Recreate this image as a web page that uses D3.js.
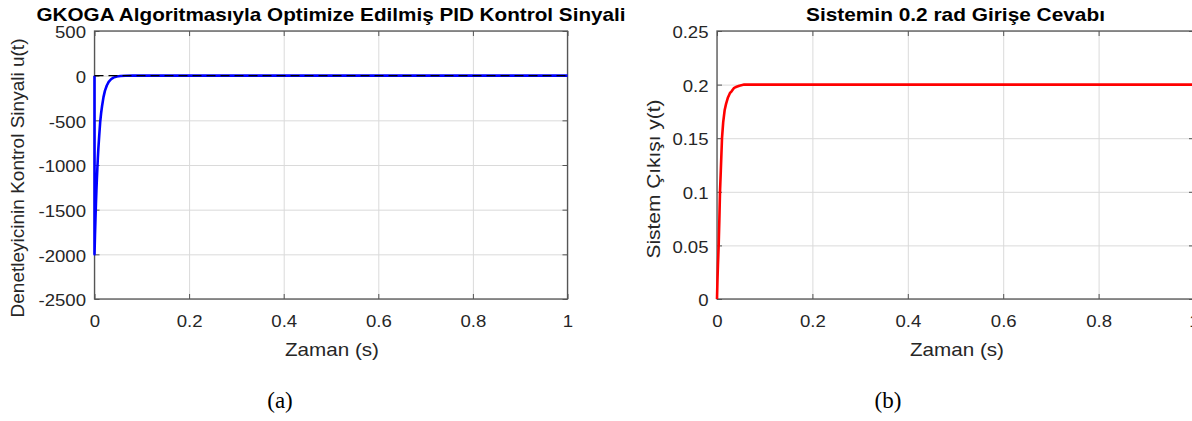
<!DOCTYPE html>
<html>
<head>
<meta charset="utf-8">
<script src="https://cdn.jsdelivr.net/npm/d3@7"></script>
<style>
  html, body { margin: 0; padding: 0; background: #fff; }
  svg { display: block; }
</style>
</head>
<body>
<svg id="chart" width="1192" height="421"></svg>
<script>
// ---------------- data ----------------
const xTicks = [0, 0.2, 0.4, 0.6, 0.8, 1];
const uTicks = [-2500, -2000, -1500, -1000, -500, 0, 500];
const yTicks = [0, 0.05, 0.1, 0.15, 0.2, 0.25];

// (a) PID control signal u(t)
const tU = [0, 0, 0.001, 0.002, 0.003, 0.004, 0.005, 0.006, 0.007, 0.008, 0.010, 0.012, 0.014, 0.016,
            0.019, 0.022, 0.026, 0.030, 0.035, 0.040, 0.047, 0.055, 0.065, 0.08, 0.1,
            0.2, 0.4, 0.6, 0.8, 1.0];
const uVals = [0, -2000, -1790, -1610, -1440, -1290, -1160, -1040, -930, -830, -670, -520, -420, -340,
               -240, -170, -110, -70, -40, -22, -10, -4, -1, 0, 0,
               0, 0, 0, 0, 0];
const refU = [0, 0];          // dashed reference line value at u = 0
const refT = [0, 1];

// (b) system output y(t)
const tY = [0, 0.001, 0.002, 0.0035, 0.005, 0.0063, 0.008, 0.0105, 0.013, 0.016, 0.019, 0.023,
            0.027, 0.031, 0.036, 0.041, 0.047, 0.057, 0.07, 0.1, 0.2, 0.4, 0.6, 0.8, 1.0];
const yVals = [0, 0.018, 0.032, 0.05, 0.075, 0.1, 0.12, 0.15, 0.165, 0.176, 0.182, 0.188,
               0.192, 0.194, 0.197, 0.198, 0.199, 0.2, 0.2, 0.2, 0.2, 0.2, 0.2, 0.2, 0.2];

const titleA = "GKOGA Algoritmasıyla Optimize Edilmiş PID Kontrol Sinyali";
const titleB = "Sistemin 0.2 rad Girişe Cevabı";
const xLabel = "Zaman (s)";
const yLabelA = "Denetleyicinin Kontrol Sinyali u(t)";
const yLabelB = "Sistem Çıkışı y(t)";
const captionA = "(a)";
const captionB = "(b)";

// ---------------- drawing ----------------
const svg = d3.select("#chart");
svg.append("rect").attr("width", 1192).attr("height", 421).attr("fill", "#fff");

const SANS = "'Liberation Sans', Arial, Helvetica, sans-serif";
const SERIF = "'Liberation Serif', 'Times New Roman', serif";
const AXC = "#555";
const TXT = "#262626";
const GRID = "#dadada";
const STRETCH = 1.16;

function stretch(sel, k) {
  sel.each(function () {
    const w = this.getComputedTextLength();
    d3.select(this).attr("textLength", w * k).attr("lengthAdjust", "spacingAndGlyphs");
  });
}
function fitWidth(sel, w) {
  sel.attr("textLength", w).attr("lengthAdjust", "spacingAndGlyphs");
}
const fmt = d => String(+(+d).toFixed(4));

function panel(cfg) {
  const x = d3.scaleLinear().domain([0, 1]).range([cfg.x0, cfg.x1]);
  const y = d3.scaleLinear().domain(cfg.yDomain).range([cfg.y1, cfg.y0]);
  const g = svg.append("g");
  const W = cfg.x1 - cfg.x0, H = cfg.y1 - cfg.y0;
  const clipId = "clip" + cfg.id;
  svg.append("clipPath").attr("id", clipId)
    .append("rect").attr("x", cfg.x0 - 2).attr("y", cfg.y0 - 2).attr("width", W + 4).attr("height", H + 4);

  // grid
  g.append("g").attr("transform", `translate(0,${cfg.y1})`)
    .call(d3.axisBottom(x).tickValues(xTicks).tickSize(-H).tickFormat(""))
    .call(s => { s.select(".domain").remove(); s.selectAll("line").attr("stroke", GRID).attr("stroke-width", 1); });
  g.append("g").attr("transform", `translate(${cfg.x0},0)`)
    .call(d3.axisLeft(y).tickValues(cfg.yTicks).tickSize(-W).tickFormat(""))
    .call(s => { s.select(".domain").remove(); s.selectAll("line").attr("stroke", GRID).attr("stroke-width", 1); });

  // axes (inward ticks on all sides, box)
  const bottom = g.append("g").attr("transform", `translate(0,${cfg.y1})`)
    .call(d3.axisBottom(x).tickValues(xTicks).tickSizeInner(-5).tickSizeOuter(0).tickPadding(17).tickFormat(fmt));
  const left = g.append("g").attr("transform", `translate(${cfg.x0},0)`)
    .call(d3.axisLeft(y).tickValues(cfg.yTicks).tickSizeInner(-5).tickSizeOuter(0).tickPadding(8.5).tickFormat(fmt));
  const top = g.append("g").attr("transform", `translate(0,${cfg.y0})`)
    .call(d3.axisTop(x).tickValues(xTicks).tickSizeInner(-5).tickSizeOuter(0).tickFormat(""));
  const right = g.append("g").attr("transform", `translate(${cfg.x1},0)`)
    .call(d3.axisRight(y).tickValues(cfg.yTicks).tickSizeInner(-5).tickSizeOuter(0).tickFormat(""));
  [bottom, left, top, right].forEach(a => {
    a.select(".domain").remove();
    a.selectAll("line").attr("stroke", AXC).attr("stroke-width", 1);
    a.selectAll("text").attr("font-family", SANS).attr("font-size", 16).attr("fill", TXT);
  });
  bottom.selectAll("text").attr("dy", "0.71em");
  left.selectAll("text").attr("dy", "0.42em");
  stretch(bottom.selectAll("text"), STRETCH);
  stretch(left.selectAll("text"), STRETCH);

  g.append("rect").attr("x", cfg.x0).attr("y", cfg.y0).attr("width", W).attr("height", H)
    .attr("fill", "none").attr("stroke", AXC).attr("stroke-width", 1.3);

  // data lines (on top of the box)
  const plot = g.append("g").attr("clip-path", `url(#${clipId})`);
  const line = d3.line().x(d => x(d[0])).y(d => y(d[1]));
  plot.append("path")
    .datum(cfg.t.map((t, i) => [t, cfg.v[i]]))
    .attr("d", line).attr("fill", "none")
    .attr("stroke", cfg.color).attr("stroke-width", 2.6).attr("stroke-linejoin", "round");
  if (cfg.ref) {
    plot.append("path")
      .datum(cfg.ref.t.map((t, i) => [t, cfg.ref.v[i]]))
      .attr("d", line).attr("fill", "none")
      .attr("stroke", "#000").attr("stroke-width", 1.3).attr("stroke-dasharray", "9,5");
  }

  // title
  const tt = g.append("text").attr("x", (cfg.x0 + cfg.x1) / 2).attr("y", 20.5)
    .attr("text-anchor", "middle").attr("font-family", SANS).attr("font-weight", "bold")
    .attr("font-size", 18.5).attr("fill", "#000").text(cfg.title);
  fitWidth(tt, cfg.titleW);

  // x label
  const xl = g.append("text").attr("x", cfg.xlX).attr("y", 356)
    .attr("text-anchor", "middle").attr("font-family", SANS).attr("font-size", 18.5)
    .attr("fill", TXT).text(xLabel);
  fitWidth(xl, 94);

  // y label
  const yl = g.append("text")
    .attr("transform", `translate(${cfg.ylX},${cfg.ylY}) rotate(-90)`)
    .attr("text-anchor", "middle").attr("dy", "0.35em").attr("font-family", SANS).attr("font-size", 18.5)
    .attr("fill", TXT).text(cfg.yLabel);
  fitWidth(yl, cfg.ylW);

  // caption
  svg.append("text").attr("x", cfg.capX).attr("y", 408)
    .attr("text-anchor", "middle").attr("font-family", SERIF).attr("font-size", 23)
    .attr("fill", "#000").text(cfg.caption);
}

panel({
  id: "A", x0: 94.5, x1: 567.5, y0: 31, y1: 299,
  yDomain: [-2500, 500], yTicks: uTicks, t: tU, v: uVals, color: "#0000ff",
  ref: { t: refT, v: refU },
  title: titleA, titleW: 589, xlX: 332, yLabel: yLabelA, ylX: 18, ylY: 178, ylW: 279,
  caption: captionA, capX: 280
});
panel({
  id: "B", x0: 717, x1: 1194, y0: 31, y1: 299,
  yDomain: [0, 0.25], yTicks: yTicks, t: tY, v: yVals, color: "#ff0000",
  ref: null,
  title: titleB, titleW: 299, xlX: 957, yLabel: yLabelB, ylX: 654, ylY: 179, ylW: 159,
  caption: captionB, capX: 888
});
</script>
</body>
</html>
